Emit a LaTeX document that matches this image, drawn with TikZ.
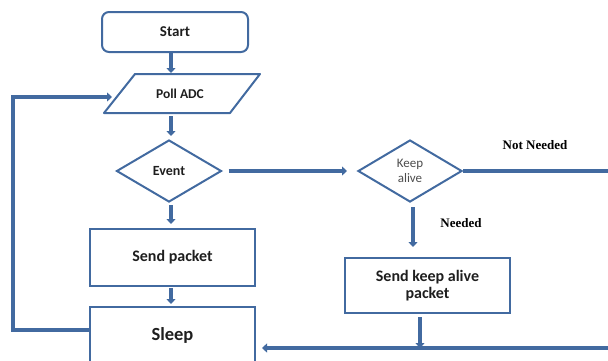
\documentclass[tikz,border=0pt]{standalone}
\usepackage{fontspec}
\setmainfont{Carlito}
\newfontfamily\lblfont{Liberation Serif}
\usetikzlibrary{shapes.geometric,arrows.meta,calc}
\definecolor{fb}{RGB}{66,106,160}
\definecolor{tx}{RGB}{30,30,30}
\tikzset{
  shp/.style={draw=fb, line width=2pt, text=tx, font=\bfseries, inner sep=0pt},
  boxs/.style={shp, rectangle, minimum width=165pt},
  dia/.style={shp, diamond, minimum width=105pt, minimum height=62pt},
  conn/.style={draw=fb, line width=3.5pt, -{Triangle[width=9pt,length=5pt]}},
  plain/.style={draw=fb, line width=3.5pt},
  lbl/.style={font=\lblfont\bfseries\fontsize{13}{14}\selectfont, text=black}
}
\begin{document}
\begin{tikzpicture}[x=1pt,y=1pt]
\useasboundingbox (0,0) rectangle (608,-360);
\begin{scope}
\clip (0,0) rectangle (608,-360);
% nodes
\node[shp, rectangle, rounded corners=7pt, minimum width=146pt, minimum height=40pt,
      font=\bfseries\fontsize{15}{16}\selectfont] (start) at (175,-32) {Start};
\draw[fb, line width=2pt, line join=round] (104,-113) -- (135,-74) -- (260,-74) -- (230,-113) -- cycle;
\node[text=tx, font=\bfseries\fontsize{13.5}{15}\selectfont] (poll) at (180,-93.5) {Poll ADC};
\coordinate (pollin) at (112,-97);
\node[dia, font=\bfseries\fontsize{14}{15}\selectfont] (event) at (169,-171) {Event};
\node[dia, minimum width=104pt, font=\fontsize{13}{15}\selectfont, text=black!70, align=center] (keep) at (410,-171) {Keep\\alive};
\node[boxs, minimum height=57pt, font=\bfseries\fontsize{16}{18}\selectfont] (send) at (172.5,-257.5) {Send packet};
\node[boxs, minimum height=56pt, font=\bfseries\fontsize{18.5}{20}\selectfont] (sleep) at (172.5,-335) {Sleep};
\node[boxs, minimum height=55pt, align=center, font=\bfseries\fontsize{16}{17}\selectfont] (keepbox) at (427.5,-285.5) {Send keep alive\\packet};
\coordinate (rightA) at (610,-171);
\coordinate (rightB) at (610,-348);
\coordinate (loopB) at (13,-330);
\coordinate (loopT) at (13,-97);
\coordinate (junc) at (420,-348);
% labels
\node[lbl] (notneeded) at (535,-145) {Not Needed};
\node[lbl] (needed) at (461,-223) {Needed};
% connectors
\draw[conn] (171,-53) -- (171,-73);
\draw[conn] (171,-116) -- (171,-136);
\draw[conn] (171,-205) -- (171,-224);
\draw[conn] (171,-288) -- (171,-304);
\draw[conn] (event.east) ++(6,0) -- ([xshift=-10pt]keep.west);
\draw[plain] (keep.east) -- (rightA);
\draw[conn] (413,-207) -- (413,-247);
\draw[conn] (420,-317) -- (junc);
\draw[conn] (rightB) -- ([xshift=6pt]sleep.east |- rightB);
\draw[conn] (sleep.west |- loopB) -- (loopB) -- (loopT) -- (pollin);
\end{scope}
\end{tikzpicture}
\end{document}
